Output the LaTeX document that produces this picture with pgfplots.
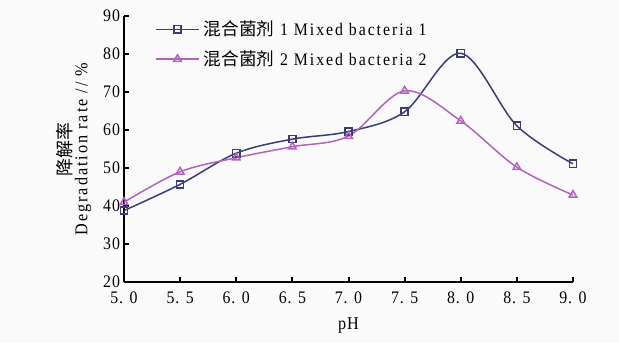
\documentclass[border=0pt]{standalone}
\usepackage{pgfplots}
\pgfplotsset{compat=1.18}
\usepackage{fontspec}
\setmainfont{Liberation Serif}[FakeStretch=0.9, LetterSpace=5]
\newfontfamily\widefont{Liberation Serif}[FakeStretch=0.9, LetterSpace=11]
\newfontfamily\cjk{Noto Sans CJK SC}
\definecolor{sone}{HTML}{3C3C78}
\definecolor{stwo}{HTML}{B264BC}
\begin{document}
\begin{tikzpicture}[x=0.5pt,y=0.5pt]
\fill[white!98!black] (-124,-61) rectangle (495,282);
\path[use as bounding box] (-124,-61) rectangle (495,282);
\begin{axis}[
  at={(0,0)}, anchor=origin,
  scale only axis, width=224.5pt, height=133pt,
  xmin=5, xmax=9, ymin=20, ymax=90,
  axis lines=left, axis line style={-, line width=1pt},
  xtick={5,5.5,...,9}, xticklabels={5. 0,5. 5,6. 0,6. 5,7. 0,7. 5,8. 0,8. 5,9. 0},
  ytick={20,30,...,90},
  tick style={black, line width=1pt},
  major tick length=2.5pt,
  tick align=inside,
  /pgf/number format/assume math mode=true,
  tick label style={font=\fontsize{8.8}{10}\selectfont},
  xticklabel style={yshift=-1.5pt},
  yticklabel style={xshift=1.5pt},
  label style={font=\fontsize{9}{10}\selectfont},
  xlabel={pH},
  xlabel style={yshift=0pt},
  ylabel={\begin{tabular}{c}{\cjk 降解率}\\[-2pt] {\widefont Degradation rate // \%}\end{tabular}},
  ylabel style={yshift=-2pt},
  legend image code/.code={%
    \draw[mark repeat=2,mark phase=2,#1] plot coordinates {(0cm,0cm) (0.38cm,0cm) (0.76cm,0cm)};},
  legend style={draw=none, fill=none, at={(rel axis cs:0.055,1)}, anchor=north west, yshift=2pt,
    font=\fontsize{8.8}{10}\selectfont\widefont, row sep=2pt, legend cell align=left},
]
\addplot[sone, line width=0.75pt, smooth, tension=0.55, mark=square, mark size=1.8pt, mark options={solid, line width=0.75pt}]
coordinates {(5.0,38.8) (5.5,45.7) (6.0,53.9) (6.5,57.6) (7.0,59.6) (7.5,64.8) (8.0,80.2) (8.5,61.1) (9.0,51.1)};
\addlegendentry{{\cjk 混合菌剂} 1 Mixed bacteria 1}
\addplot[stwo, line width=0.75pt, smooth, tension=0.55, mark=triangle, mark size=2.2pt, mark options={solid, line width=0.75pt}]
coordinates {(5.0,41.0) (5.5,49.0) (6.0,52.7) (6.5,55.6) (7.0,58.4) (7.5,70.3) (8.0,62.4) (8.5,50.2) (9.0,42.9)};
\addlegendentry{{\cjk 混合菌剂} 2 Mixed bacteria 2}
\end{axis}
\end{tikzpicture}
\end{document}
